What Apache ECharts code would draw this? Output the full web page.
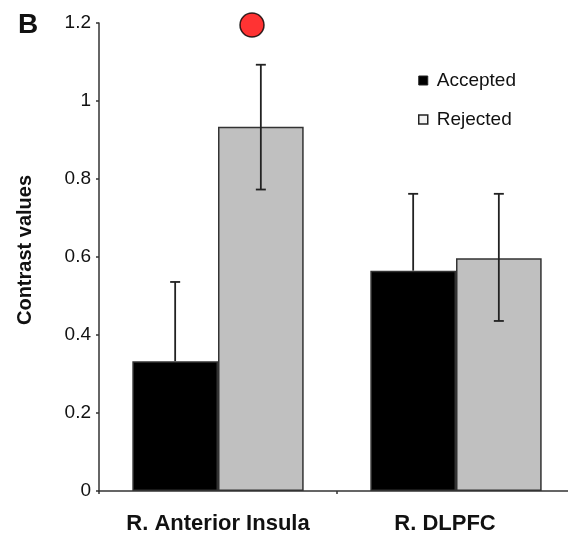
<!DOCTYPE html>
<html>
<head>
<meta charset="utf-8">
<script src="https://cdn.jsdelivr.net/npm/echarts@6/dist/echarts.min.js"></script>
<style>html,body{margin:0;padding:0;background:#fff}#c{width:568px;height:537px}</style>
</head>
<body>
<div id="c"></div>
<script>
var categories = ['R. Anterior Insula', 'R. DLPFC'];
var seriesNames = ['Accepted', 'Rejected'];
var accepted = [0.333, 0.565];
var rejected = [0.934, 0.597];
var acceptedErrHigh = [0.536, 0.762];
var rejectedErrLow = [0.773, 0.436];
var rejectedErrHigh = [1.093, 0.762];
var sigCategory = ['R. Anterior Insula'];
var sigValue = [1.195];
var yTicks = [0, 0.2, 0.4, 0.6, 0.8, 1, 1.2];

var CAT_GAP = 0.28;
var FONT = 'Liberation Sans, Arial, Helvetica, sans-serif';
var labelPad = [[0, 0, 0, 0], [0, 22, 0, 0]];

function errData(lo, hi) {
  return categories.map(function (c, i) { return [i, lo[i], hi[i]]; });
}
function errSeries(name, lo, hi, side, lowCap) {
  return {
    type: 'custom',
    name: name + ' error',
    z: 5,
    data: errData(lo, hi),
    renderItem: function (params, api) {
      var i = api.value(0);
      var catW = api.size([1, 0])[0];
      var off = side * catW * (1 - CAT_GAP) / 4;
      var pLo = api.coord([i, api.value(1)]);
      var pHi = api.coord([i, api.value(2)]);
      var x = pLo[0] + off;
      var cap = 5;
      var st = { stroke: '#222', lineWidth: 1.8 };
      var ch = [
        { type: 'line', shape: { x1: x, y1: pLo[1], x2: x, y2: pHi[1] }, style: st },
        { type: 'line', shape: { x1: x - cap, y1: pHi[1], x2: x + cap, y2: pHi[1] }, style: st }
      ];
      if (lowCap) ch.push({ type: 'line', shape: { x1: x - cap, y1: pLo[1], x2: x + cap, y2: pLo[1] }, style: st });
      return { type: 'group', children: ch };
    }
  };
}

var chart = echarts.init(document.getElementById('c'), null, { renderer: 'canvas' });
chart.setOption({
  animation: false,
  backgroundColor: '#fff',
  title: {
    text: 'B', left: 18, top: 11, padding: 0,
    textStyle: { fontFamily: FONT, fontSize: 28, fontWeight: 'bold', color: '#111' }
  },
  legend: {
    orient: 'vertical', left: 418, top: 71, padding: 0,
    itemWidth: 9, itemHeight: 9, itemGap: 20,
    icon: 'rect',
    textStyle: { fontFamily: FONT, fontSize: 19, color: '#111', padding: [0, 0, 0, 4] },
    data: [
      { name: seriesNames[0], itemStyle: { color: '#000', borderColor: '#222', borderWidth: 1 } },
      { name: seriesNames[1], itemStyle: { color: '#f2f2f2', borderColor: '#222', borderWidth: 1.5 } }
    ]
  },
  grid: { left: 99, top: 23, width: 476, height: 468, containLabel: false, outerBoundsMode: 'none' },
  xAxis: {
    type: 'category',
    data: categories.map(function (c, i) { return { value: c, textStyle: { padding: labelPad[i] } }; }),
    axisLine: { lineStyle: { color: '#333', width: 1.5 } },
    axisTick: { show: true, interval: 0, length: 3, lineStyle: { color: '#333', width: 1.5 } },
    axisLabel: { interval: 0, hideOverlap: false, fontFamily: FONT, fontSize: 22, fontWeight: 'bold', color: '#111', margin: 22 }
  },
  yAxis: {
    type: 'value',
    min: 0, max: 1.2, interval: 0.2,
    name: 'Contrast values',
    nameLocation: 'middle',
    nameGap: 64,
    nameTextStyle: { fontFamily: FONT, fontSize: 20, fontWeight: 'bold', color: '#111', padding: [0, 0, 0, 14] },
    splitLine: { show: false },
    axisLine: { show: true, lineStyle: { color: '#333', width: 1.5 } },
    axisTick: { show: true, length: 3, lineStyle: { color: '#333', width: 1.5 } },
    axisLabel: {
      fontFamily: FONT, fontSize: 19, color: '#111', margin: 8,
      formatter: function (v) {
        for (var k = 0; k < yTicks.length; k++) {
          if (Math.abs(yTicks[k] - v) < 1e-9) return String(yTicks[k]);
        }
        return '';
      }
    }
  },
  series: [
    {
      type: 'bar', name: seriesNames[0], data: accepted,
      barGap: '0%', barCategoryGap: (CAT_GAP * 100) + '%',
      itemStyle: { color: '#000', borderColor: '#333', borderWidth: 1.5 }
    },
    {
      type: 'bar', name: seriesNames[1], data: rejected,
      barGap: '0%', barCategoryGap: (CAT_GAP * 100) + '%',
      itemStyle: { color: '#c0c0c0', borderColor: '#333', borderWidth: 1.5 }
    },
    errSeries(seriesNames[0], accepted, acceptedErrHigh, -1, false),
    errSeries(seriesNames[1], rejectedErrLow, rejectedErrHigh, 1, true),
    {
      type: 'scatter', name: 'sig', z: 6,
      data: sigCategory.map(function (c, i) { return [c, sigValue[i]]; }),
      symbol: 'circle', symbolSize: 24, symbolOffset: [34, 0],
      itemStyle: { color: '#ff0000', borderColor: '#000', borderWidth: 1.5 }
    }
  ]
});
</script>
</body>
</html>
